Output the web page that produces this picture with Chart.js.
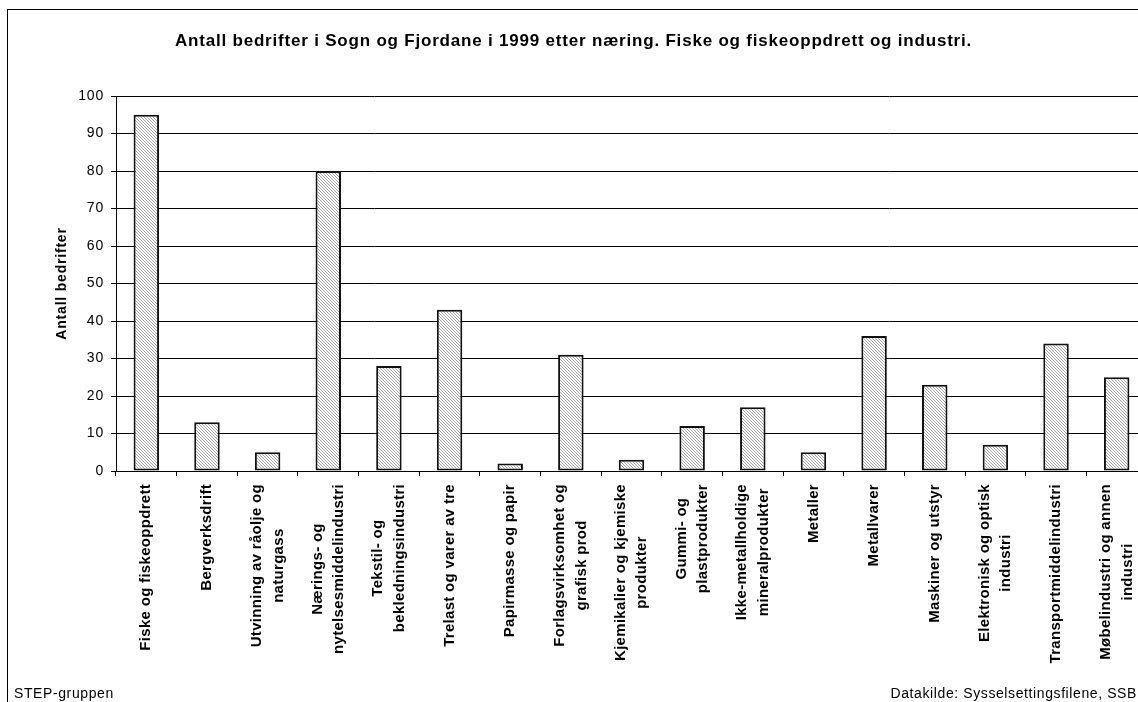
<!DOCTYPE html>
<html>
<head>
<meta charset="utf-8">
<script src="https://cdn.jsdelivr.net/npm/chart.js@4.4.1/dist/chart.umd.min.js"></script>
<style>
  html, body { margin: 0; padding: 0; background: #fff; width: 1138px; height: 702px; overflow: hidden; }
  #frame { position: absolute; left: 7px; top: 9px; width: 1140px; height: 800px; border: 1px solid #000; box-sizing: border-box; }
  #c { position: absolute; left: 0; top: 0; }
  .foot { position: absolute; font: 14px "Liberation Sans", Arial, sans-serif; letter-spacing: 0.6px; color: #000; line-height: 16px; white-space: nowrap; }
  #fl { left: 14px; top: 685px; }
  #fr { left: 0; width: 1137px; text-align: right; top: 685px; }
</style>
</head>
<body>
<div id="frame"></div>
<canvas id="c" width="1147" height="702"></canvas>
<div class="foot" id="fl">STEP-gruppen</div>
<div class="foot" id="fr">Datakilde: Sysselsettingsfilene, SSB</div>
<script>
const chartTitle = 'Antall bedrifter i Sogn og Fjordane i 1999 etter næring. Fiske og fiskeoppdrett og industri.';
const yAxisTitle = 'Antall bedrifter';
const categories = [
  'Fiske og fiskeoppdrett',
  'Bergverksdrift',
  ['Utvinning av råolje og', 'naturgass'],
  ['Nærings- og', 'nytelsesmiddelindustri'],
  ['Tekstil- og', 'bekledningsindustri'],
  'Trelast og varer av tre',
  'Papirmasse og papir',
  ['Forlagsvirksomhet og', 'grafisk prod'],
  ['Kjemikalier og kjemiske', 'produkter'],
  ['Gummi- og', 'plastprodukter'],
  ['Ikke-metallholdige', 'mineralprodukter'],
  'Metaller',
  'Metallvarer',
  'Maskiner og utstyr',
  ['Elektronisk og optisk', 'industri'],
  'Transportmiddelindustri',
  ['Møbelindustri og annen', 'industri']
];
const values = [95, 13, 5, 80, 28, 43, 2, 31, 3, 12, 17, 5, 36, 23, 7, 34, 25];
const yMin = 0, yMax = 100, yStep = 10;

function makeHatch() {
  const n = 3;
  const c = document.createElement('canvas');
  c.width = n; c.height = n;
  const g = c.getContext('2d');
  g.fillStyle = '#ffffff'; g.fillRect(0, 0, n, n);
  g.fillStyle = '#a4a4a4';
  for (let i = 0; i < n; i++) g.fillRect(i, i, 1, 1);
  return g.createPattern(c, 'repeat');
}

Chart.defaults.font.family = '"Liberation Sans", Arial, sans-serif';
Chart.defaults.color = '#000';

const spacingPlugin = {
  id: 'spacing',
  beforeDraw(chart) { chart.ctx.letterSpacing = '0.8px'; }
};

const xLabelPlugin = {
  id: 'xLabels',
  afterDraw(chart) {
    const ctx = chart.ctx, x = chart.scales.x;
    ctx.save();
    ctx.font = 'bold 15px "Liberation Sans", Arial, sans-serif';
    ctx.letterSpacing = '0.3px';
    ctx.fillStyle = '#000';
    ctx.textAlign = 'center';
    ctx.textBaseline = 'middle';
    const top = x.top + 13;
    chart.data.labels.forEach((lab, i) => {
      const lines = Array.isArray(lab) ? lab : [lab];
      const px = x.getPixelForValue(i);
      const w = Math.max(...lines.map(l => ctx.measureText(l).width));
      ctx.save();
      ctx.translate(px, top);
      ctx.rotate(-Math.PI / 2);
      lines.forEach((l, j) => ctx.fillText(l, -w / 2, (j - (lines.length - 1) / 2) * 21.5));
      ctx.restore();
    });
    ctx.restore();
  }
};

new Chart(document.getElementById('c'), {
  type: 'bar',
  data: {
    labels: categories,
    datasets: [{
      data: values,
      backgroundColor: makeHatch(),
      borderColor: '#111',
      borderWidth: 2,
      borderSkipped: false,
      categoryPercentage: 1,
      barPercentage: 0.42
    }]
  },
  options: {
    responsive: false,
    animation: false,
    devicePixelRatio: 1,
    layout: { padding: 0 },
    plugins: {
      legend: { display: false },
      tooltip: { enabled: false },
      title: {
        display: true,
        text: chartTitle,
        font: { size: 17, weight: 'bold' },
        lineHeight: 1.2,
        padding: { top: 31, bottom: 44.6 },
        color: '#000'
      }
    },
    scales: {
      x: {
        afterFit(s) { s.height = 231; },
        grid: { offset: true, drawOnChartArea: false, drawTicks: true, tickLength: 5, color: '#000', lineWidth: 1 },
        border: { display: true, color: '#000', width: 1 },
        ticks: { display: false }
      },
      y: {
        min: yMin, max: yMax,
        afterFit(s) { s.width = 116; },
        grid: { color: '#000', lineWidth: 1, drawTicks: true, tickLength: 5 },
        border: { display: true, color: '#000', width: 1 },
        ticks: { stepSize: yStep, font: { size: 14 }, padding: 7, color: '#000' },
        title: {
          display: true,
          text: yAxisTitle,
          font: { size: 14, weight: 'bold' },
          padding: { top: 54, bottom: 0 },
          color: '#000'
        }
      }
    }
  },
  plugins: [spacingPlugin, xLabelPlugin]
});
</script>
</body>
</html>
